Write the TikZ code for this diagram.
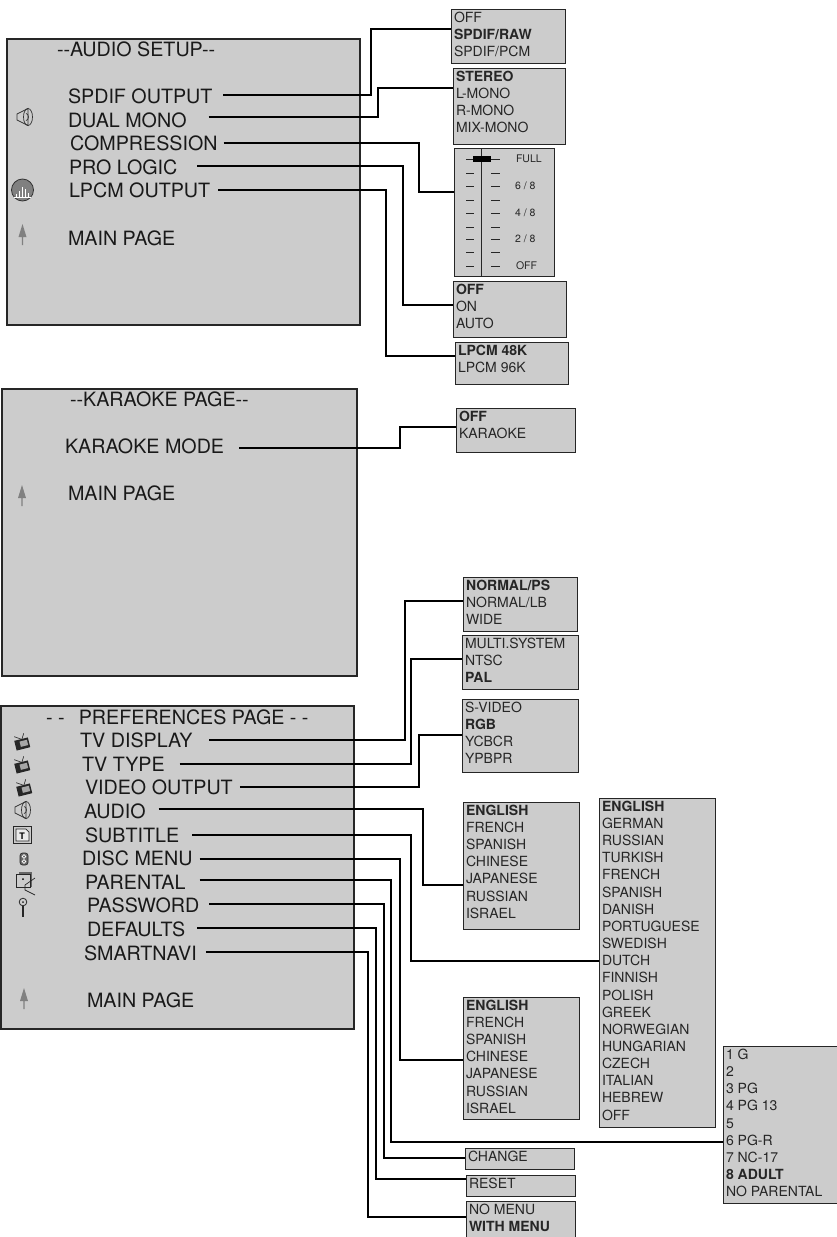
\documentclass[tikz,border=0pt]{standalone}
\usepackage{fontspec}
\setmainfont{TeX Gyre Heros}
\definecolor{panelgray}{HTML}{CCCCCC}
\definecolor{icongray}{HTML}{808080}
\tikzset{
  panel/.style = {draw=black!85, line width=1.5pt, fill=panelgray, anchor=north west, inner sep=0pt, outer sep=0pt},
  optbox/.style = {draw=black!85, line width=1pt, fill=panelgray, anchor=north west, inner sep=0pt, outer sep=0pt},
  menulabel/.style = {anchor=west, inner sep=0pt, outer sep=0pt, text height=14.2pt, text depth=0pt, text=black!90,
    font=\fontsize{19.7}{22}\selectfont},
  opttext/.style = {anchor=north west, align=left, inner sep=0pt, outer sep=0pt, xshift=3pt, yshift=-3pt, text=black!85,
    font=\fontsize{14}{17.15}\selectfont},
  slidelabel/.style = {anchor=west, inner sep=0pt, outer sep=0pt, text=black!85, font=\fontsize{10.5}{12}\selectfont},
  wire/.style = {draw=black, line width=1.4pt, sharp corners},
  tick/.style = {draw=black!85, line width=1pt},
  speaker/.pic = {
    \draw[black!80, line width=.7pt, fill=panelgray] (-8,-3) -- (3,-8.5) -- (3,8.5) -- (-8,3) -- cycle;
    \draw[black!80, line width=.7pt] (3,0) ellipse (4.5 and 8.5);
    \draw[black!80, line width=.7pt] (1,-3.5) arc (-90:90:2.5 and 3.5);
  },
  uparrow/.pic = {
    \fill[icongray] (0,-10) -- (4,3) -- (.6,3) -- (.6,11) -- (-.6,11) -- (-.6,3) -- (-4,3) -- cycle;
  },
  tvset/.pic = {
    \begin{scope}[rotate=14]
      \fill[black!85] (-7,-4) rectangle (7,6);
      \fill[black!35] (-2,-2) rectangle (5.5,3.5);
      \draw[black!85, line width=.6pt] (0,-4) -- (-6,-8) (1,-4) -- (4,-9);
    \end{scope}
  },
}
\begin{document}
\begin{tikzpicture}[x=1pt, y=-1pt]
  \clip (0,0) rectangle (837,1237);

  \node[panel, minimum width=353pt, minimum height=286pt] (audiopanel) at (7,39) {};
  \node[panel, minimum width=355pt, minimum height=287pt] (karaokepanel) at (2,389) {};
  \node[panel, minimum width=353pt, minimum height=323pt] (prefpanel) at (1,706) {};

  \node[menulabel] (audiotitle) at (57,49) {-{}-AUDIO SETUP-{}-};
  \node[menulabel] (spdif) at (68,96) {SPDIF OUTPUT};
  \node[menulabel] (dualmono) at (68,120) {DUAL MONO};
  \node[menulabel] (compress) at (70,143) {COMPRESSION};
  \node[menulabel] (prologic) at (69,167) {PRO LOGIC};
  \node[menulabel] (lpcm) at (69,190) {LPCM OUTPUT};
  \node[menulabel] (audiomain) at (68,238) {MAIN PAGE};

  \node[menulabel] (karaoketitle) at (70,399) {-{}-KARAOKE PAGE-{}-};
  \node[menulabel] (karaokemode) at (65,446) {KARAOKE MODE};
  \node[menulabel] (karaokemain) at (68,493) {MAIN PAGE};

  \node[menulabel] (preftitle) at (46,717) {- -\ \ \,PREFERENCES PAGE - -};
  \node[menulabel] (tvdisplay) at (80,740) {TV DISPLAY};
  \node[menulabel] (tvtype) at (82,764) {TV TYPE};
  \node[menulabel] (videoout) at (85,787) {VIDEO OUTPUT};
  \node[menulabel] (prefaudio) at (84,811) {AUDIO};
  \node[menulabel] (subtitle) at (85,835) {SUBTITLE};
  \node[menulabel] (discmenu) at (82,858) {DISC MENU};
  \node[menulabel] (parental) at (85,882) {PARENTAL};
  \node[menulabel] (password) at (87,905) {PASSWORD};
  \node[menulabel] (defaults) at (87,929) {DEFAULTS};
  \node[menulabel] (smartnavi) at (84,953) {SMARTNAVI};
  \node[menulabel] (prefmain) at (87,1000) {MAIN PAGE};

  \node[optbox, minimum width=114pt, minimum height=54pt] (spdifbox) at (451,9) {};
  \node[opttext] (spdiftext) at (spdifbox.north west) {OFF\\\textbf{SPDIF/RAW}\\SPDIF/PCM};
  \node[optbox, minimum width=112pt, minimum height=76pt] (monobox) at (453,68) {};
  \node[opttext] (monotext) at (monobox.north west) {\textbf{STEREO}\\L-MONO\\R-MONO\\MIX-MONO};
  \node[optbox, minimum width=100pt, minimum height=128pt] (slidebox) at (454,148) {};
  \node[optbox, minimum width=113pt, minimum height=56pt] (logicbox) at (453,281) {};
  \node[opttext] (logictext) at (logicbox.north west) {\textbf{OFF}\\ON\\AUTO};
  \node[optbox, minimum width=113pt, minimum height=42pt] (lpcmbox) at (455,342) {};
  \node[opttext] (lpcmtext) at (lpcmbox.north west) {\textbf{LPCM 48K}\\LPCM 96K};
  \node[optbox, minimum width=119pt, minimum height=44pt] (karaokebox) at (456,408) {};
  \node[opttext] (karaoketext) at (karaokebox.north west) {\textbf{OFF}\\KARAOKE};
  \node[optbox, minimum width=114pt, minimum height=54pt] (displaybox) at (463,577) {};
  \node[opttext] (displaytext) at (displaybox.north west) {\textbf{NORMAL/PS}\\NORMAL/LB\\WIDE};
  \node[optbox, minimum width=116pt, minimum height=54pt] (typebox) at (462,635) {};
  \node[opttext] (typetext) at (typebox.north west) {MULTI.SYSTEM\\NTSC\\\textbf{PAL}};
  \node[optbox, minimum width=116pt, minimum height=73pt] (videobox) at (462,699) {};
  \node[opttext] (videotext) at (videobox.north west) {S-VIDEO\\\textbf{RGB}\\YCBCR\\YPBPR};
  \node[optbox, minimum width=116pt, minimum height=127pt] (langbox) at (463,802) {};
  \node[opttext] (langtext) at (langbox.north west) {\textbf{ENGLISH}\\FRENCH\\SPANISH\\CHINESE\\JAPANESE\\RUSSIAN\\ISRAEL};
  \node[optbox, minimum width=116pt, minimum height=329pt] (subtitlebox) at (599,798) {};
  \node[opttext] (subtitletext) at (subtitlebox.north west) {\textbf{ENGLISH}\\GERMAN\\RUSSIAN\\TURKISH\\FRENCH\\SPANISH\\DANISH\\PORTUGUESE\\SWEDISH\\DUTCH\\FINNISH\\POLISH\\GREEK\\NORWEGIAN\\HUNGARIAN\\CZECH\\ITALIAN\\HEBREW\\OFF};
  \node[optbox, minimum width=116pt, minimum height=122pt] (discbox) at (463,997) {};
  \node[opttext] (disctext) at (discbox.north west) {\textbf{ENGLISH}\\FRENCH\\SPANISH\\CHINESE\\JAPANESE\\RUSSIAN\\ISRAEL};
  \node[optbox, minimum width=120pt, minimum height=157pt] (ratingbox) at (723,1046) {};
  \node[opttext] (ratingtext) at (ratingbox.north west) {1 G\\2\\3 PG\\4 PG 13\\5\\6 PG-R\\7 NC-17\\\textbf{8 ADULT}\\NO PARENTAL};
  \node[optbox, minimum width=109pt, minimum height=21pt] (changebox) at (465,1148) {};
  \node[opttext] (changetext) at (changebox.north west) {CHANGE};
  \node[optbox, minimum width=109pt, minimum height=21pt] (resetbox) at (466,1175) {};
  \node[opttext] (resettext) at (resetbox.north west) {RESET};
  \node[optbox, minimum width=109pt, minimum height=42pt] (navibox) at (466,1201) {};
  \node[opttext] (navitext) at (navibox.north west) {NO MENU\\\textbf{WITH MENU}};

  \draw[tick] (481,148) -- (481,276);
  \foreach \y in {159,173,186,200,213,227,239,252,266}
    \draw[tick] (466,\y) -- (474,\y) (491,\y) -- (500,\y);
  \fill[black] (473,156) rectangle (491,162);
  \node[slidelabel] (slidefull) at (516,159) {FULL};
  \node[slidelabel] (slidesix) at (515,186) {6 / 8};
  \node[slidelabel] (slidefour) at (515,213) {4 / 8};
  \node[slidelabel] (slidetwo) at (515,239) {2 / 8};
  \node[slidelabel] (slideoff) at (516,266) {OFF};

  \draw[wire] ([xshift=11pt,yshift=1pt]spdif.east) -| (371,29) -- (spdifbox.west |- 371,29);
  \draw[wire] ([xshift=22pt,yshift=3pt]dualmono.east) -| (378,88) -- (monobox.west |- 378,88);
  \draw[wire] ([xshift=6pt]compress.east) -| (419,192) -- (slidebox.west |- 419,192);
  \draw[wire] ([xshift=20pt,yshift=1pt]prologic.east) -| (403,305) -- (logicbox.west |- 403,305);
  \draw[wire] ([xshift=8pt]lpcm.east) -| (386,356) -- (lpcmbox.west |- 386,356);
  \draw[wire] ([xshift=15pt,yshift=-2pt]karaokemode.east) -| (400,427) -- (karaokebox.west |- 400,427);
  \draw[wire] ([xshift=17pt]tvdisplay.east) -| (405,601) -- (displaybox.west |- 405,601);
  \draw[wire] ([xshift=15pt]tvtype.east) -| (411,659) -- (typebox.west |- 411,659);
  \draw[wire] ([xshift=7pt]videoout.east) -| (419,735) -- (videobox.west |- 419,735);
  \draw[wire] ([xshift=13pt,yshift=2pt]prefaudio.east) -| (423,885) -- (langbox.west |- 423,885);
  \draw[wire] ([xshift=13pt]subtitle.east) -| (411,961) -- (subtitlebox.west |- 411,961);
  \draw[wire] ([xshift=7pt,yshift=-1pt]discmenu.east) -| (400,1060) -- (discbox.west |- 400,1060);
  \draw[wire] ([xshift=14pt,yshift=2pt]parental.east) -| (391,1142) -- (ratingbox.west |- 391,1142);
  \draw[wire] ([xshift=10pt,yshift=1pt]password.east) -| (384,1158) -- (changebox.west |- 384,1158);
  \draw[wire] ([xshift=12pt,yshift=1pt]defaults.east) -| (376,1179) -- (resetbox.west |- 376,1179);
  \draw[wire] ([xshift=9pt,yshift=1pt]smartnavi.east) -| (368,1217) -- (navibox.west |- 368,1217);

  \pic at (25,117) {speaker};
  \draw[black!80, line width=.8pt, fill=icongray] (22.5,190) circle (11);
  \fill[white] (14,196.5) rectangle (31,197.5);
  \foreach \x/\h in {16/3,19/6,22/10,25/8,28/4}
    \fill[white] (\x,197) rectangle (\x+1.3,197-\h);
  \pic at (22.5,234) {uparrow};
  \pic at (22,495) {uparrow};
  \pic at (24,998) {uparrow};

  \pic at (22,743) {tvset};
  \pic at (22,766) {tvset};
  \pic at (24,789) {tvset};
  \pic at (23,810) {speaker};
  \fill[black!85] (13,826) rectangle (32,844);
  \fill[panelgray] (14,827) rectangle (31,843);
  \draw[black!85, line width=.7pt, fill=white!60!panelgray] (16,829) -- (26,829) -- (29,832) -- (29,841) -- (16,841) -- cycle;
  \node[inner sep=0pt, font=\fontsize{9}{9}\selectfont\bfseries, text=black] (doct) at (22,836) {T};
  \draw[black!85, fill=black!60, line width=.6pt, rounded corners=2.5pt] (20,853) rectangle (28,865);
  \draw[white, line width=.7pt] (24,856.5) circle (1.8) (24,861.5) circle (1.8);
  \fill[black!60] (18.5,872) rectangle (32,887);
  \draw[black!85, line width=.8pt, fill=panelgray] (16,874) rectangle (30,887);
  \fill[black] (23,879) circle (1);
  \draw[black!85, line width=.7pt] (35,878) -- (25,885) -- (25,890) -- (35,895);
  \draw[black!85, line width=.8pt] (23,902) circle (3.8);
  \fill[black!85] (23,902) circle (1);
  \draw[black!85, line width=2pt] (23,906) -- (23,917);
\end{tikzpicture}
\end{document}
